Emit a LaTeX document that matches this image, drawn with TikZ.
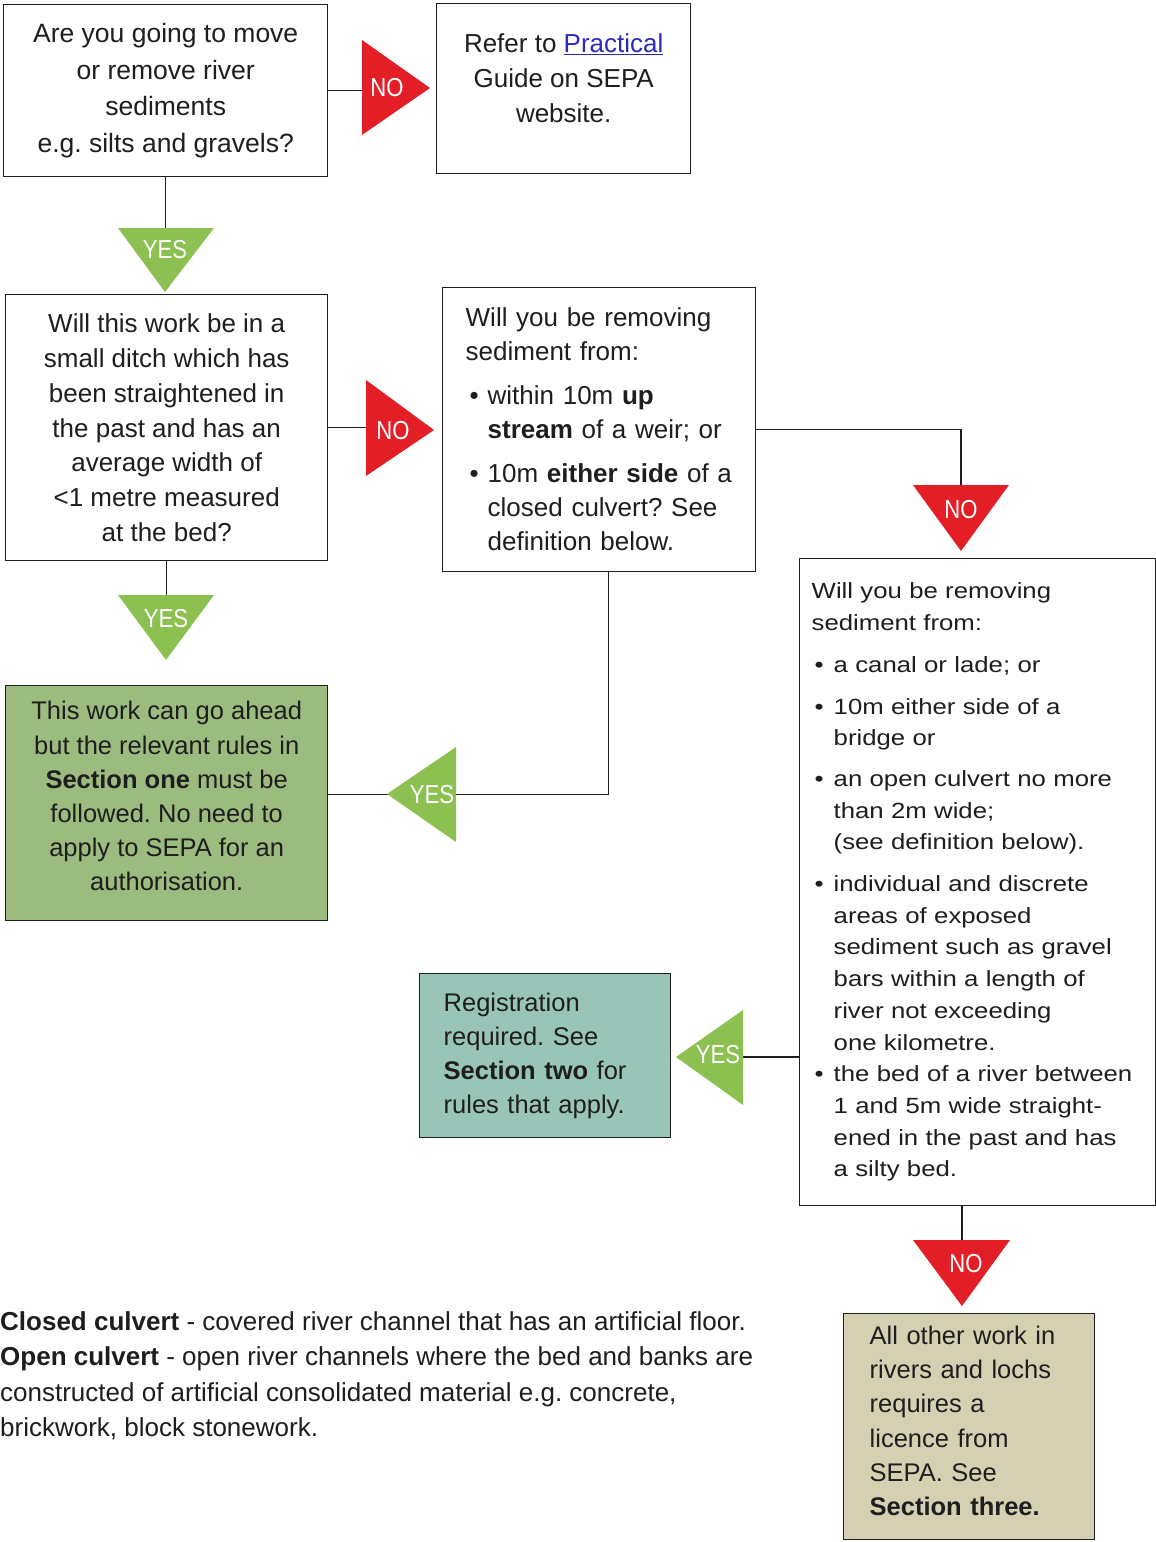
\documentclass[tikz,border=0pt]{standalone}
\usepackage{fontspec}
\setmainfont{Liberation Sans}
\newfontfamily\widefont[FakeStretch=1.17]{Liberation Sans}
\newfontfamily\labfont[FakeStretch=0.85]{Liberation Sans}
\definecolor{boxline}{HTML}{1E1E1E}
\definecolor{txt}{HTML}{1E1E1E}
\definecolor{noRed}{HTML}{E41E26}
\definecolor{yesGreen}{HTML}{8CC152}
\definecolor{greenBox}{HTML}{9CBB7E}
\definecolor{tealBox}{HTML}{98C5B8}
\definecolor{beigeBox}{HTML}{D6D0B2}
\definecolor{linkblue}{HTML}{2B2BB8}
\newcommand{\mybul}{\makebox[22pt][l]{\hspace{4pt}\textbullet}}
\newcommand{\myind}{\hspace*{22pt}}
\newcommand{\ebul}{\makebox[22pt][l]{\hspace{3pt}\textbullet}}
\frenchspacing
\tikzset{
  box/.style={draw=boxline, line width=1.4pt, inner ysep=0pt, anchor=north west, text=txt},
  conn/.style={draw=boxline, line width=1.4pt},
  lab/.style={font=\labfont\fontsize{26}{26}\selectfont, text=white, inner sep=0pt},
  notri/.style={fill=noRed},
  yestri/.style={fill=yesGreen},
}
\begin{document}
\begin{tikzpicture}[x=1pt,y=-1pt]
\useasboundingbox[fill=white] (0,0) rectangle (1156,1542);

% boxes
\node[box, minimum width=324pt, minimum height=172pt, inner xsep=0pt, align=center,
      font=\fontsize{26.5}{36.5}\selectfont] (A) at (3,4)
  {Are you going to move\\ or remove river\\ sediments\\ e.g. silts and gravels?};

\node[box, minimum width=254pt, minimum height=170pt, inner xsep=0pt, align=center,
      font=\fontsize{26}{35}\selectfont] (B) at (436,3)
  {Refer to \textcolor{linkblue}{\underline{Practical}}\\ Guide on SEPA\\ website.\rule[-22pt]{0pt}{1pt}};

\node[box, minimum width=322pt, minimum height=266pt, inner xsep=0pt, align=center,
      font=\fontsize{26}{34.7}\selectfont] (C) at (5,294)
  {Will this work be in a\\ small ditch which has\\ been straightened in\\ the past and has an\\ average width of\\ <1 metre measured\\ at the bed?};

\node[box, minimum width=313pt, minimum height=284pt, inner xsep=23pt, text width=267pt, align=left,
      font=\fontsize{26}{34}\selectfont] (D) at (442,287)
  {Will you be removing\\ sediment from:\\[10pt]
   \mybul within 10m \textbf{up}\\ \myind\textbf{stream} of a weir; or\\[10pt]
   \mybul 10m \textbf{either side} of a\\ \myind closed culvert? See\\ \myind definition below.};

\node[box, minimum width=356pt, minimum height=647pt, inner xsep=12pt, text width=332pt, align=left,
      font=\widefont\fontsize{22}{31.7}\selectfont] (E) at (799,558)
  {Will you be removing\\ sediment from:\\[10pt]
   \ebul a canal or lade; or\\[10pt]
   \ebul 10m either side of a\\ \myind bridge or\\[9pt]
   \ebul an open culvert no more\\ \myind than 2m wide;\\ \myind (see definition below).\\[10pt]
   \ebul individual and discrete\\ \myind areas of exposed\\ \myind sediment such as gravel\\ \myind bars within a length of\\ \myind river not exceeding\\ \myind one kilometre.\\
   \ebul the bed of a river between\\ \myind 1 and 5m wide straight-\\ \myind ened in the past and has\\ \myind a silty bed.};

\node[box, fill=greenBox, minimum width=322pt, minimum height=235pt, inner xsep=0pt, align=center,
      font=\fontsize{25.5}{34.2}\selectfont] (G) at (5,685)
  {This work can go ahead\\ but the relevant rules in\\ \textbf{Section one} must be\\ followed. No need to\\ apply to SEPA for an\\ authorisation.\rule[-14pt]{0pt}{1pt}};

\node[box, fill=tealBox, minimum width=251pt, minimum height=164pt, inner xsep=24pt, text width=203pt, align=left,
      font=\fontsize{25.5}{34}\selectfont] (H) at (419,973)
  {Registration\\ required. See\\ \textbf{Section two} for\\ rules that apply.};

\node[box, fill=beigeBox, minimum width=251pt, minimum height=226pt, inner xsep=26pt, text width=199pt, align=left,
      font=\fontsize{25.5}{34.3}\selectfont] (I) at (843,1313)
  {All other work in\\ rivers and lochs\\ requires a\\ licence from\\ SEPA. See\\ \textbf{Section three.}\rule[-12pt]{0pt}{1pt}};

% footnote
\node[anchor=north west, inner sep=0pt, align=left, text=txt,
      font=\fontsize{26}{35.5}\selectfont] (foot) at (0,1311)
  {\textbf{Closed culvert} - covered river channel that has an artificial floor.\\
   \textbf{Open culvert} - open river channels where the bed and banks are\\
   constructed of artificial consolidated material e.g. concrete,\\
   brickwork, block stonework.};

% triangle attach points
\coordinate (t1) at (165,228);
\coordinate (t2) at (362,88);
\coordinate (t3) at (166,595);
\coordinate (t4) at (366,430);
\coordinate (t5) at (961,485);
\coordinate (t7) at (743,1057);
\coordinate (t8) at (962,1240);

% connectors
\draw[conn] (A.south) -- (A.south |- t1);
\draw[conn] (A.east) -- (A.east -| t2);
\draw[conn] (C.south) -- (C.south |- t3);
\draw[conn] (C.east) -- (C.east -| t4);
\draw[conn] (D.east) -| (t5);
\draw[conn] ([xshift=9.5pt]D.south) |- ([yshift=8.5pt]G.east);
\draw[conn] (E.west |- t7) -- (t7);
\draw[conn] (t8 |- E.south) -- (t8);

% triangles
\fill[yestri] (118,228) -- (214,228) -- (165,292) -- cycle;
\node[lab] (y1) at (165,250) {YES};
\fill[notri] (362,40) -- (362,135) -- (430,88) -- cycle;
\node[lab] (n1) at (387,88) {NO};
\fill[yestri] (118,595) -- (214,595) -- (166,660) -- cycle;
\node[lab] (y2) at (166,619) {YES};
\fill[notri] (366,380) -- (366,476) -- (434,430) -- cycle;
\node[lab] (n2) at (393,431) {NO};
\fill[notri] (913,485) -- (1009,485) -- (961,551) -- cycle;
\node[lab] (n3) at (961,510) {NO};
\fill[yestri] (456,747) -- (456,842) -- (387,794) -- cycle;
\node[lab] (y3) at (432,795) {YES};
\fill[yestri] (743,1010) -- (743,1105) -- (676,1057) -- cycle;
\node[lab] (y4) at (718,1055) {YES};
\fill[notri] (913,1240) -- (1010,1240) -- (962,1306) -- cycle;
\node[lab] (n4) at (966,1264) {NO};
\end{tikzpicture}
\end{document}
